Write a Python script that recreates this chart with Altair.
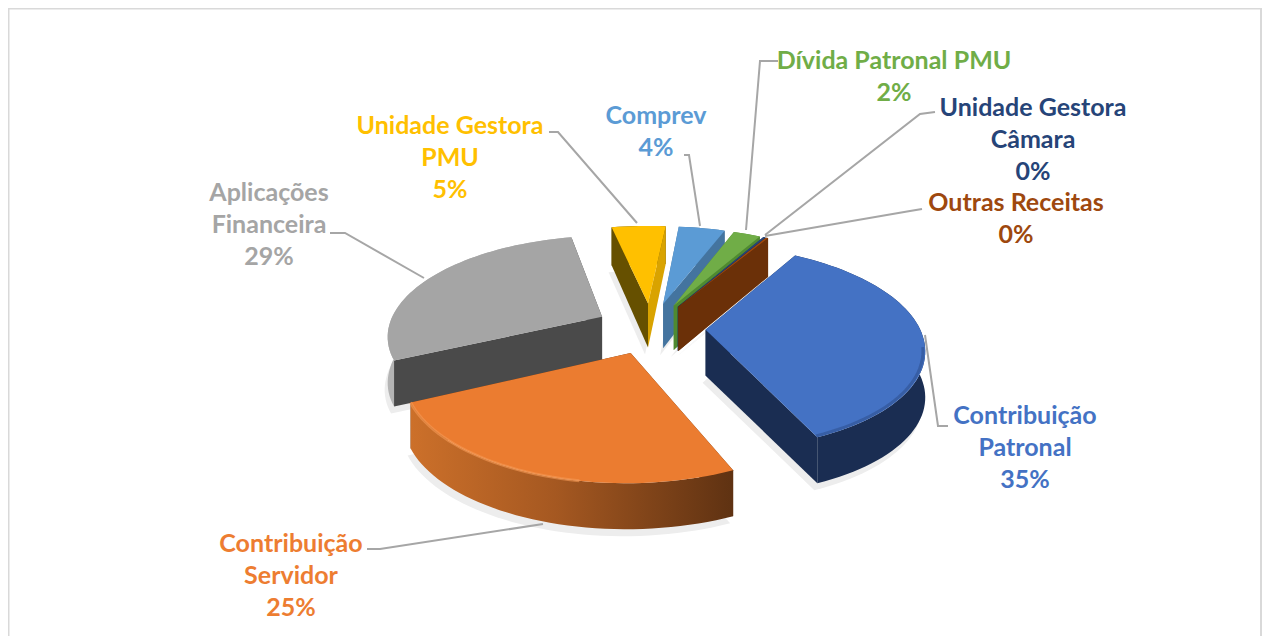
import math
import altair as alt
import pandas as pd

# --- chart values -----------------------------------------------------------
names = ["Contribuição Patronal", "Contribuição Servidor", "Aplicações Financeira",
         "Unidade Gestora PMU", "Comprev", "Dívida Patronal PMU",
         "Unidade Gestora Câmara", "Outras Receitas"]
shares = [34.85, 24.5, 28.7, 4.9, 4.2, 2.45, 0.2, 0.2]
top_colors = ["#4472C4", "#EB7C30", "#A5A5A5", "#FFC000", "#5B9BD5", "#70AD47", "#264478", "#9E480E"]
label_colors = ["#4472C4", "#ED7D31", "#A5A5A5", "#FFC000", "#5B9BD5", "#70AD47", "#264478", "#9E480E"]
pct_labels = ["35%", "25%", "29%", "5%", "4%", "2%", "0%", "0%"]

# --- layout -----------------------------------------------------------------
W, H = 1254, 628
FIRST_ANGLE = 31
CX, CY, R, TILT, PERSP, DEPTH = 651, 328, 214, 0.46, 0.17, 46
EXPLODE = [0.255, 0.26, 0.26, 0.26, 0.26, 0.26, 0.26, 0.26]
FONT = "Lato"
FS = 25

label_lines = [
    (["Contribuição", "Patronal"], 1025, 416),
    (["Contribuição", "Servidor"], 291, 544),
    (["Aplicações", "Financeira"], 269, 193),
    (["Unidade Gestora", "PMU"], 450, 126),
    (["Comprev"], 656, 116),
    (["Dívida Patronal PMU"], 894, 61),
    (["Unidade Gestora", "Câmara"], 1033, 108),
    (["Outras Receitas"], 1016, 203),
]
leaders = [
    [(948, 426), (938, 426), (925, 335)],
    [(367, 549), (380, 549), (543, 524)],
    [(330, 233), (345, 233), (424, 278)],
    [(549, 132), (558, 132), (637, 223)],
    [(684, 155), (689, 155), (700, 226)],
    [(778, 61), (760, 61), (746, 230)],
    [(935, 112), (920, 114), (765, 235)],
    [(922, 209), (910, 211), (765, 236)],
]
wall_fill = {
    0: {"start": "#1A2D52", "end": "#1A2D52", "rim": "#1A2D52"},
    1: {"start": "#5F3212", "end": "#5F3212",
        "rim": alt.LinearGradient(gradient="linear", x1=0, x2=1, y1=0, y2=0, stops=[
            alt.GradientStop(offset=0, color="#CC702A"), alt.GradientStop(offset=0.45, color="#A55821"),
            alt.GradientStop(offset=1, color="#5F3212")])},
    2: {"start": "#4A4A4A", "end": "#4A4A4A", "rim": "#B4B4B4"},
    3: {"start": "#665000", "end": "#D9A300", "rim": "#665000"},
    4: {"start": "#44749F", "end": "#44749F", "rim": "#44749F"},
    5: {"start": "#4F8A30", "end": "#4F8A30", "rim": "#4F8A30"},
    6: {"start": "#1D3359", "end": "#1D3359", "rim": "#1D3359"},
    7: {"start": "#6B3008", "end": "#6B3008", "rim": "#6B3008"},
}
part_order = {0: ["start", "end", "rim"], 1: ["start", "end", "rim"], 2: ["rim", "end", "start"]}
for k in (3, 4, 5, 6, 7):
    part_order[k] = ["rim", "start", "end"]
paint_order = [3, 4, 5, 6, 7, 2, 0, 1]

# --- geometry, from the shares ---------------------------------------------
bounds = []
a = FIRST_ANGLE
for s in shares:
    bounds.append((a, a + s * 3.6))
    a += s * 3.6


def project(px, py, drop=0.0):
    den = 1 + PERSP * py
    return (CX + R * px / den, CY - R * TILT * py / den + drop * DEPTH / max(den, 1))


def plane(i, ang, r=1.0):
    a0, a1 = bounds[i]
    mid = math.radians((a0 + a1) / 2)
    t = math.radians(ang)
    e = EXPLODE[i]
    return (e * math.sin(mid) + r * math.sin(t), e * math.cos(mid) + r * math.cos(t))


def arc(i, a0, a1, r=1.0, drop=0.0):
    n = max(2, int(abs(a1 - a0) / 2) + 1)
    return [project(*plane(i, a0 + (a1 - a0) * j / (n - 1), r), drop) for j in range(n)]


def frame(points):
    return pd.DataFrame({"x": [p[0] for p in points], "y": [p[1] for p in points], "i": range(len(points))})


x_scale = alt.Scale(domain=[8, 8 + W], range=[0, W], nice=False, zero=False)
y_scale = alt.Scale(domain=[8, 8 + H], range=[0, H], nice=False, zero=False)
x_enc = alt.X("x:Q", scale=x_scale, axis=None)
y_enc = alt.Y("y:Q", scale=y_scale, axis=None)


def shape(points, fill, opacity=1.0):
    return alt.Chart(frame(points)).mark_line(fill=fill, stroke=None, strokeWidth=0, opacity=opacity,
                                              interpolate="linear").encode(
        x=x_enc, y=y_enc, order="i:Q")


def stroke_line(points, color, width, opacity=1.0):
    return alt.Chart(frame(points)).mark_line(stroke=color, strokeWidth=width, opacity=opacity,
                                              strokeCap="butt").encode(
        x=x_enc, y=y_enc, order="i:Q")


layers = []
# chart frame
layers.append(stroke_line([(8.5, 636), (8.5, 8.5), (1261, 8.5), (1261, 636)], "#D9D9D9", 2))

# soft shadows under the slices
for i in paint_order:
    a0, a1 = bounds[i]
    outline = [project(*plane(i, a0, 0.0), 1.0)] + arc(i, a0, a1, 1.0, 1.0)
    layers.append(shape([(x - 3, y + 7) for x, y in outline], "#EDEDED"))

# slices, far to near
for i in paint_order:
    a0, a1 = bounds[i]
    apex = project(*plane(i, a0, 0.0))
    apex_d = project(*plane(i, a0, 0.0), 1.0)
    for part in part_order[i]:
        if part == "rim":
            poly = arc(i, a0, a1) + arc(i, a1, a0, 1.0, 1.0)
        else:
            ang = a0 if part == "start" else a1
            poly = [apex, project(*plane(i, ang)), project(*plane(i, ang), 1.0), apex_d]
        layers.append(shape(poly, wall_fill[i][part]))
    layers.append(shape([apex] + arc(i, a0, a1), top_colors[i]))

# bevel along the near rims
layers.append(stroke_line(arc(1, 190, bounds[1][1], 1.0), "#F59A55", 3, 0.6))
layers.append(stroke_line(arc(0, 100, bounds[0][1], 0.99), "#2A4A85", 3, 0.5))

# leader lines
for pts in leaders:
    layers.append(stroke_line(pts, "#A6A6A6", 2))

# labels
rows = []
for i, (lines, cx, y0) in enumerate(label_lines):
    for j, txt in enumerate(lines + [pct_labels[i]]):
        rows.append({"x": cx, "y": y0 + j * 32, "t": txt, "c": label_colors[i]})
layers.append(alt.Chart(pd.DataFrame(rows)).mark_text(
    font=FONT, fontSize=FS, fontWeight="bold", align="center", baseline="middle").encode(
    x=x_enc, y=y_enc, text="t:N", color=alt.Color("c:N", scale=None, legend=None)))

chart = alt.layer(*layers).properties(
    width=W, height=H, padding=0, autosize=alt.AutoSizeParams(type="none"),
    background="white").configure_view(stroke=None)

chart.save("out.html", embed_options={"renderer": "svg", "actions": False})
